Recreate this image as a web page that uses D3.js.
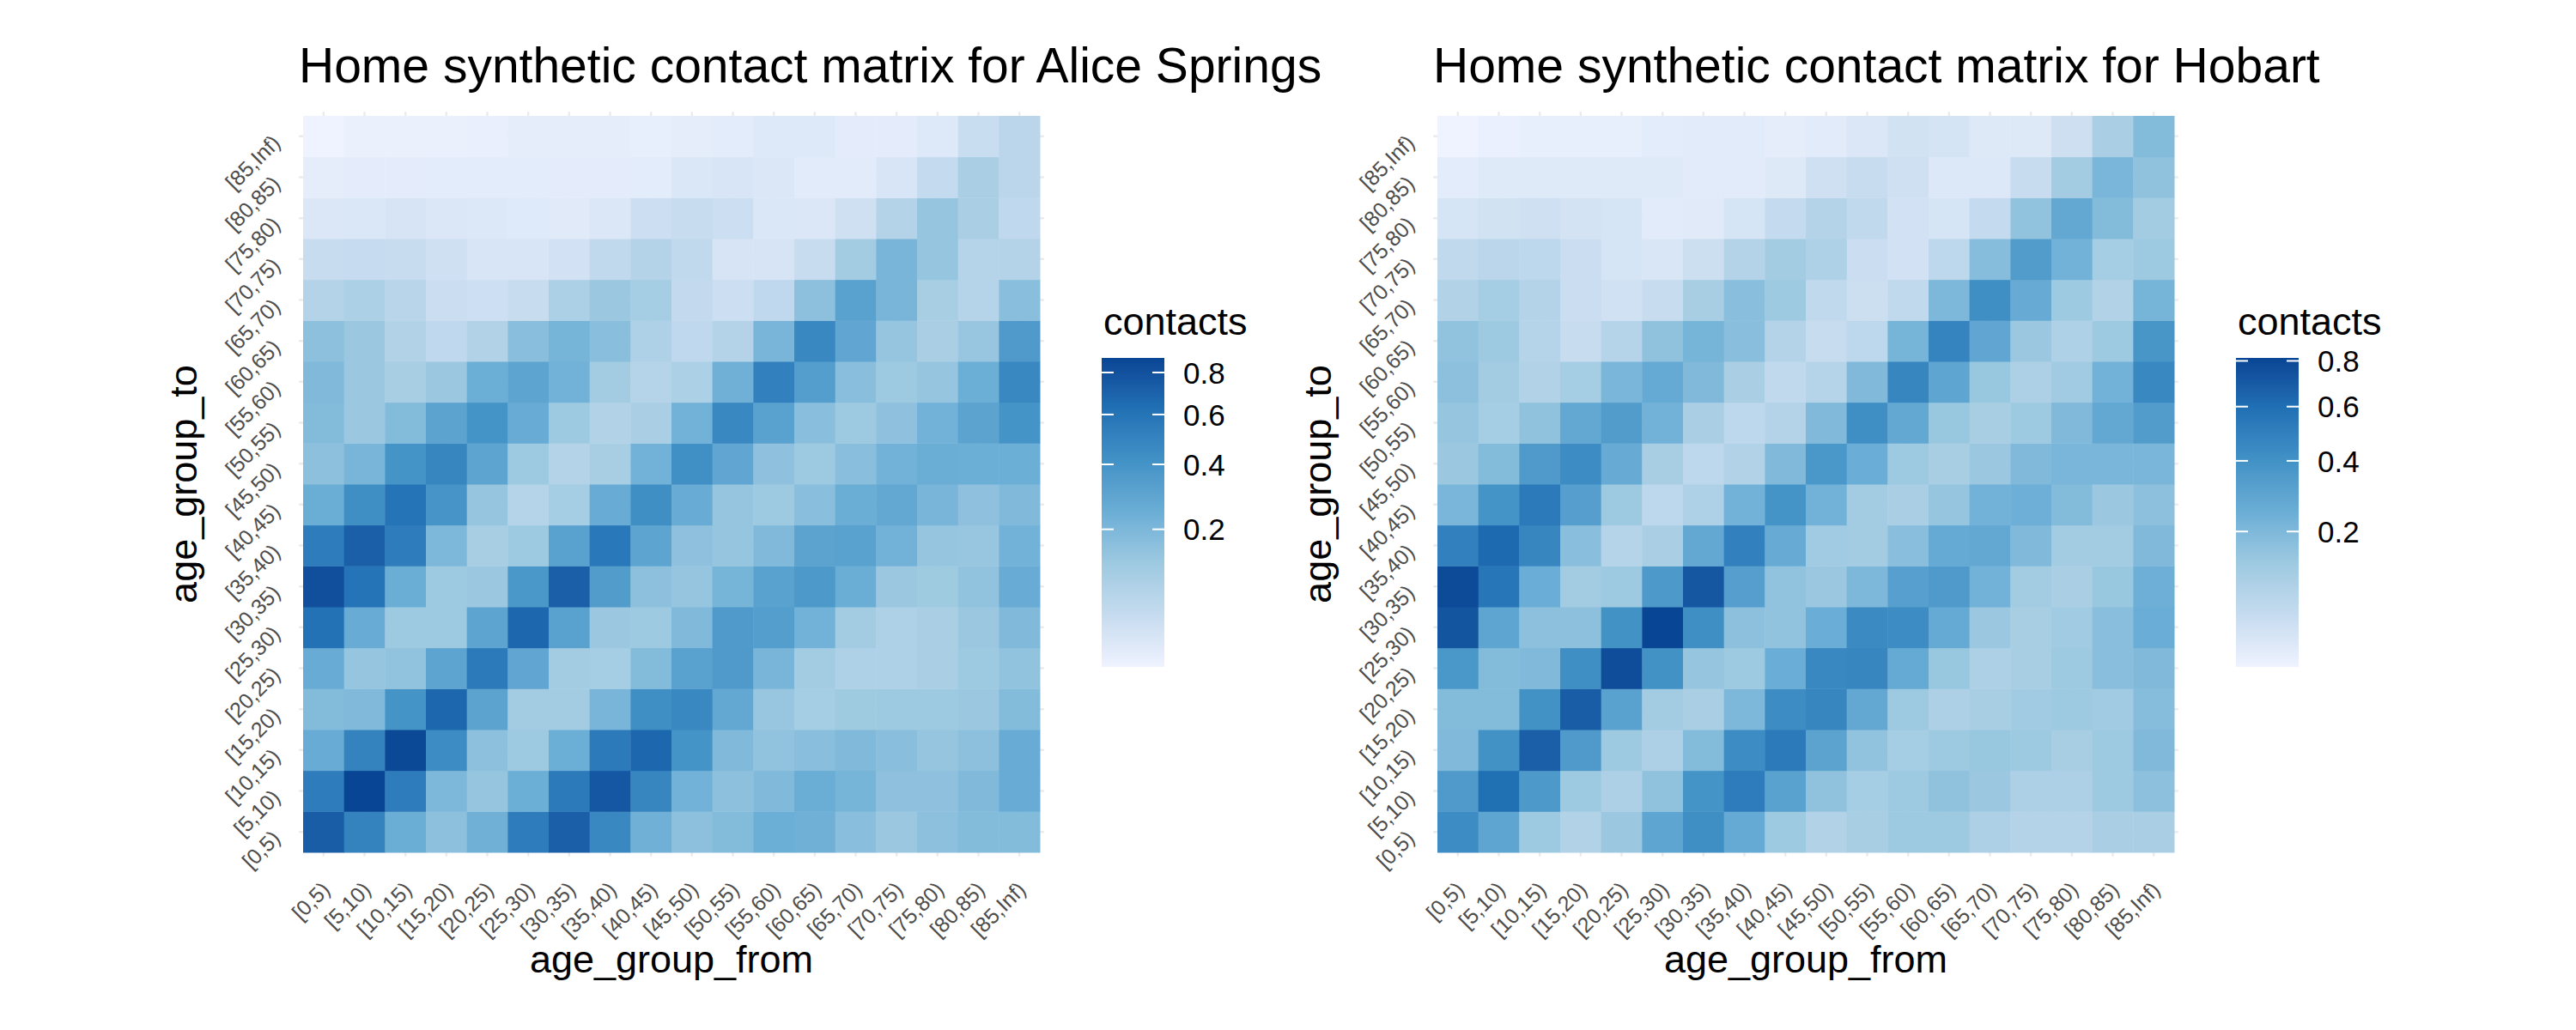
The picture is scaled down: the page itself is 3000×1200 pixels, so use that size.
<!DOCTYPE html>
<html>
<head>
<meta charset="utf-8">
<script src="https://cdn.jsdelivr.net/npm/d3@7"></script>
<style>
  body { margin: 0; background: #fff; }
  text { font-family: "Liberation Sans", Arial, Helvetica, sans-serif; }
</style>
</head>
<body>
<div id="chart"></div>
<script>
// age groups, bottom-left origin: rows = age_group_to, cols = age_group_from
const ageGroups = ["[0,5)", "[5,10)", "[10,15)", "[15,20)", "[20,25)", "[25,30)", "[30,35)", "[35,40)", "[40,45)",
  "[45,50)", "[50,55)", "[55,60)", "[60,65)", "[65,70)", "[70,75)", "[75,80)", "[80,85)", "[85,Inf)"];

// Alice Springs, one row per age_group_to ([0,5) first)
const aliceSprings = [
  [0.733,0.510,0.250,0.162,0.233,0.548,0.718,0.472,0.233,0.162,0.184,0.242,0.233,0.169,0.128,0.162,0.184,0.184],
  [0.548,0.876,0.548,0.200,0.141,0.242,0.561,0.764,0.485,0.224,0.162,0.192,0.250,0.216,0.155,0.155,0.192,0.259],
  [0.259,0.510,0.859,0.448,0.162,0.122,0.242,0.561,0.673,0.402,0.192,0.148,0.169,0.192,0.169,0.141,0.162,0.259],
  [0.184,0.192,0.402,0.673,0.307,0.110,0.110,0.208,0.436,0.472,0.278,0.135,0.104,0.118,0.122,0.122,0.128,0.184],
  [0.259,0.141,0.148,0.297,0.561,0.287,0.110,0.104,0.184,0.317,0.358,0.208,0.110,0.082,0.082,0.093,0.122,0.148],
  [0.616,0.259,0.122,0.122,0.297,0.673,0.317,0.128,0.122,0.192,0.358,0.337,0.224,0.110,0.082,0.093,0.128,0.192],
  [0.811,0.602,0.250,0.122,0.128,0.379,0.718,0.347,0.162,0.141,0.216,0.317,0.368,0.250,0.128,0.118,0.148,0.259],
  [0.548,0.718,0.548,0.200,0.098,0.122,0.317,0.575,0.297,0.155,0.141,0.192,0.307,0.317,0.224,0.141,0.135,0.224],
  [0.250,0.436,0.602,0.391,0.141,0.070,0.104,0.259,0.436,0.259,0.141,0.122,0.169,0.250,0.278,0.208,0.155,0.192],
  [0.162,0.208,0.402,0.485,0.297,0.122,0.073,0.098,0.224,0.424,0.287,0.155,0.122,0.169,0.224,0.250,0.242,0.242],
  [0.184,0.128,0.184,0.307,0.402,0.259,0.122,0.077,0.093,0.224,0.472,0.317,0.169,0.122,0.155,0.224,0.307,0.402],
  [0.192,0.128,0.098,0.128,0.242,0.297,0.224,0.110,0.070,0.088,0.233,0.522,0.337,0.169,0.122,0.141,0.242,0.472],
  [0.162,0.128,0.077,0.051,0.077,0.169,0.216,0.169,0.082,0.051,0.073,0.208,0.472,0.287,0.141,0.093,0.135,0.358],
  [0.073,0.088,0.063,0.034,0.031,0.039,0.088,0.128,0.104,0.045,0.033,0.051,0.162,0.317,0.208,0.098,0.070,0.169],
  [0.038,0.041,0.039,0.029,0.019,0.019,0.025,0.049,0.073,0.049,0.021,0.021,0.038,0.110,0.208,0.141,0.068,0.073],
  [0.016,0.017,0.021,0.016,0.015,0.013,0.012,0.016,0.033,0.039,0.033,0.017,0.016,0.029,0.073,0.141,0.093,0.051],
  [0.008,0.009,0.009,0.010,0.010,0.010,0.009,0.009,0.010,0.017,0.019,0.016,0.011,0.011,0.019,0.043,0.093,0.059],
  [0.003,0.005,0.005,0.005,0.006,0.008,0.008,0.008,0.007,0.008,0.010,0.014,0.014,0.009,0.009,0.014,0.036,0.059]
];

// Hobart, same layout
const hobart = [
  [0.431,0.294,0.131,0.088,0.137,0.294,0.420,0.268,0.131,0.088,0.109,0.131,0.131,0.098,0.083,0.083,0.103,0.103],
  [0.350,0.595,0.359,0.131,0.098,0.162,0.389,0.521,0.312,0.162,0.114,0.131,0.162,0.137,0.098,0.098,0.131,0.169],
  [0.197,0.400,0.673,0.350,0.131,0.098,0.190,0.431,0.533,0.303,0.156,0.114,0.131,0.143,0.131,0.109,0.131,0.197],
  [0.190,0.190,0.400,0.686,0.312,0.120,0.103,0.204,0.431,0.464,0.276,0.131,0.098,0.109,0.125,0.131,0.125,0.183],
  [0.369,0.190,0.197,0.420,0.770,0.400,0.150,0.131,0.251,0.453,0.464,0.268,0.143,0.098,0.109,0.131,0.176,0.197],
  [0.727,0.294,0.169,0.169,0.400,0.814,0.420,0.169,0.156,0.251,0.442,0.431,0.268,0.137,0.109,0.125,0.176,0.251],
  [0.784,0.557,0.251,0.120,0.131,0.359,0.714,0.330,0.156,0.137,0.204,0.321,0.350,0.227,0.120,0.103,0.143,0.243],
  [0.498,0.620,0.464,0.176,0.079,0.103,0.276,0.498,0.260,0.125,0.120,0.176,0.268,0.276,0.197,0.120,0.120,0.197],
  [0.212,0.389,0.533,0.330,0.131,0.066,0.093,0.227,0.389,0.227,0.120,0.103,0.150,0.227,0.243,0.190,0.137,0.169],
  [0.137,0.190,0.350,0.431,0.260,0.109,0.066,0.088,0.197,0.369,0.251,0.131,0.109,0.137,0.197,0.212,0.212,0.212],
  [0.150,0.114,0.162,0.276,0.340,0.227,0.103,0.066,0.083,0.197,0.420,0.276,0.143,0.109,0.131,0.197,0.276,0.340],
  [0.169,0.120,0.088,0.114,0.212,0.268,0.197,0.103,0.061,0.079,0.197,0.464,0.294,0.143,0.098,0.125,0.227,0.453],
  [0.156,0.131,0.079,0.050,0.079,0.162,0.220,0.176,0.083,0.050,0.066,0.220,0.475,0.285,0.137,0.093,0.131,0.379],
  [0.088,0.114,0.083,0.046,0.038,0.050,0.109,0.176,0.131,0.061,0.043,0.061,0.204,0.420,0.260,0.131,0.088,0.220],
  [0.061,0.070,0.066,0.046,0.030,0.028,0.043,0.083,0.120,0.093,0.046,0.035,0.066,0.183,0.340,0.227,0.114,0.131],
  [0.030,0.036,0.039,0.033,0.030,0.019,0.020,0.030,0.054,0.083,0.059,0.035,0.030,0.054,0.156,0.276,0.190,0.120],
  [0.017,0.021,0.021,0.021,0.021,0.021,0.019,0.019,0.022,0.039,0.050,0.039,0.024,0.024,0.048,0.120,0.212,0.162],
  [0.0085,0.012,0.013,0.013,0.014,0.017,0.018,0.018,0.016,0.018,0.025,0.036,0.032,0.022,0.022,0.041,0.103,0.190]
];

const legendTicks = [0.2, 0.4, 0.6, 0.8];
const blues = ["#EFF3FF", "#C6DBEF", "#9ECAE1", "#6BAED6", "#4292C6", "#2171B5", "#084594"];

const width = 3000, height = 1200;
const size = 858, panelTop = 135;

const svg = d3.select("#chart").append("svg")
  .attr("width", width)
  .attr("height", height);

svg.append("rect").attr("width", width).attr("height", height).attr("fill", "#fff");

const palette = d3.scaleLinear()
  .domain(d3.range(blues.length).map(i => i / (blues.length - 1)))
  .range(blues)
  .interpolate(d3.interpolateLab);

const panels = [
  { id: "alice", title: "Home synthetic contact matrix for Alice Springs", data: aliceSprings, left: 353 },
  { id: "hobart", title: "Home synthetic contact matrix for Hobart", data: hobart, left: 1674 }
];

panels.forEach(p => {
  const cells = [];
  p.data.forEach((row, i) => row.forEach((v, j) => cells.push({ to: ageGroups[i], from: ageGroups[j], value: v })));

  const x = d3.scaleBand().domain(ageGroups).range([p.left, p.left + size]);
  const y = d3.scaleBand().domain(ageGroups.slice().reverse()).range([panelTop, panelTop + size]);
  const ext = 0.1 * x.bandwidth();

  // sqrt transformed fill, like trans = "sqrt"
  const t = d3.scaleSqrt().domain(d3.extent(cells, d => d.value)).range([0, 1]);
  const fill = v => palette(t(v));

  const g = svg.append("g");

  // grid lines (only the bits outside the tiles show)
  g.append("g").selectAll("line").data(ageGroups).join("line")
    .attr("x1", d => x(d) + x.bandwidth() / 2).attr("x2", d => x(d) + x.bandwidth() / 2)
    .attr("y1", panelTop - ext).attr("y2", panelTop + size + ext)
    .attr("stroke", "#EBEBEB").attr("stroke-width", 2.5);
  g.append("g").selectAll("line").data(ageGroups).join("line")
    .attr("y1", d => y(d) + y.bandwidth() / 2).attr("y2", d => y(d) + y.bandwidth() / 2)
    .attr("x1", p.left - ext).attr("x2", p.left + size + ext)
    .attr("stroke", "#EBEBEB").attr("stroke-width", 2.5);

  // tiles
  g.append("g").selectAll("rect").data(cells).join("rect")
    .attr("x", d => x(d.from))
    .attr("y", d => y(d.to))
    .attr("width", x.bandwidth() + 0.5)
    .attr("height", y.bandwidth() + 0.5)
    .attr("fill", d => fill(d.value));

  // x axis
  const xa = g.append("g")
    .attr("transform", `translate(0,${panelTop + size})`)
    .call(d3.axisBottom(x).tickSize(0))
    .call(a => a.select(".domain").remove());
  xa.attr("font-family", null).attr("font-size", null);
  xa.selectAll("text")
    .attr("x", null).attr("y", null).attr("dy", null)
    .attr("text-anchor", "end")
    .attr("transform", "translate(9,45) rotate(-45)")
    .attr("font-size", 25)
    .attr("fill", "#4D4D4D");

  // y axis
  const ya = g.append("g")
    .attr("transform", `translate(${p.left},0)`)
    .call(d3.axisLeft(y).tickSize(0))
    .call(a => a.select(".domain").remove());
  ya.attr("font-family", null).attr("font-size", null);
  ya.selectAll("text")
    .attr("x", null).attr("y", null).attr("dy", null)
    .attr("text-anchor", "end")
    .attr("transform", "translate(-25,9) rotate(-45)")
    .attr("font-size", 25)
    .attr("fill", "#4D4D4D");

  // titles
  g.append("text").attr("x", p.left - 5).attr("y", 96)
    .attr("font-size", 57).attr("fill", "#000").text(p.title);
  g.append("text").attr("x", p.left + size / 2).attr("y", 1133)
    .attr("text-anchor", "middle").attr("font-size", 45).text("age_group_from");
  g.append("text")
    .attr("transform", `translate(${p.left - 124},${panelTop + size / 2}) rotate(-90)`)
    .attr("text-anchor", "middle").attr("font-size", 45).text("age_group_to");

  // colour bar legend
  const lx = p.left + size + 72, barTop = 417, barH = 360, barW = 73;
  const grad = svg.append("defs").append("linearGradient")
    .attr("id", "grad-" + p.id).attr("x1", 0).attr("x2", 0).attr("y1", 1).attr("y2", 0);
  d3.range(0, 1.0001, 0.02).forEach(s => {
    grad.append("stop").attr("offset", s).attr("stop-color", palette(s));
  });
  const lg = svg.append("g");
  lg.append("text").attr("x", lx + 2).attr("y", 390).attr("font-size", 45).text("contacts");
  lg.append("rect").attr("x", lx).attr("y", barTop).attr("width", barW).attr("height", barH)
    .attr("fill", `url(#grad-${p.id})`);
  const ly = t.copy().range([barTop + barH, barTop]);
  const tk = lg.selectAll("g.tk").data(legendTicks).join("g")
    .attr("class", "tk")
    .attr("transform", d => `translate(0,${ly(d)})`);
  tk.append("line").attr("x1", lx).attr("x2", lx + 14).attr("stroke", "#fff").attr("stroke-width", 2);
  tk.append("line").attr("x1", lx + barW - 14).attr("x2", lx + barW).attr("stroke", "#fff").attr("stroke-width", 2);
  tk.append("text").attr("x", lx + 95).attr("dy", "0.36em").attr("font-size", 35)
    .text(d => d3.format(".1f")(d));
});
</script>
</body>
</html>
